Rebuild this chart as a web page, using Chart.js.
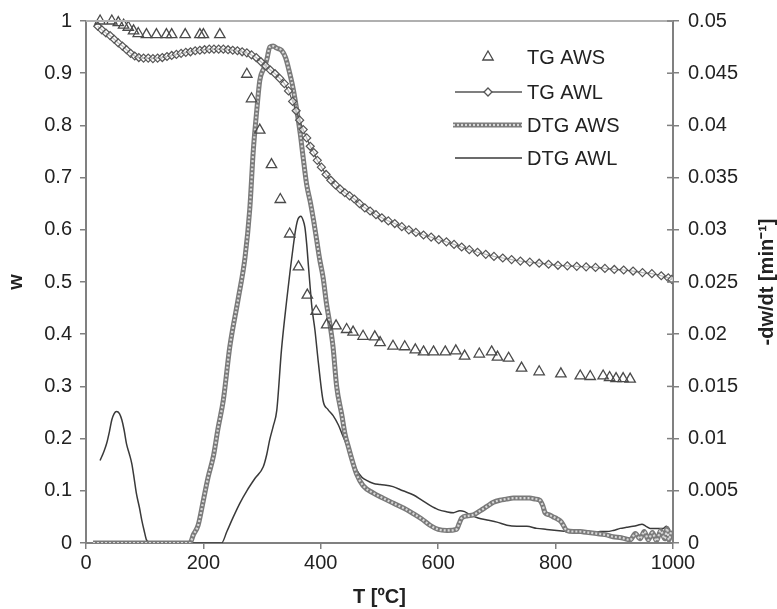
<!DOCTYPE html>
<html>
<head>
<meta charset="utf-8">
<script src="https://cdn.jsdelivr.net/npm/chart.js@4.4.1/dist/chart.umd.min.js"></script>
<style>
  html, body { margin: 0; padding: 0; background: #fff; }
  #wrap { width: 777px; height: 609px; position: relative; }
</style>
</head>
<body>
<div id="wrap"><canvas id="grafico"></canvas></div>
<script>
// ================== Datos ==================
// TG AWS (triangulos)
const T_TG_AWS = [24, 44, 55, 64, 72, 81, 89, 103, 120, 137, 146, 169, 194, 200, 228, 274, 282, 296, 316, 331,
  347, 362, 377, 392, 410, 426, 444, 455, 472, 492, 501, 523, 543, 561, 575, 592, 612, 630, 645, 670,
  691, 701, 720, 742, 772, 809, 842, 859, 881, 892, 903, 915, 927];
const W_TG_AWS = [1.0, 1.0, 0.997, 0.992, 0.988, 0.981, 0.976, 0.974, 0.974, 0.974, 0.974, 0.974, 0.974, 0.974, 0.974, 0.898, 0.851, 0.791, 0.725, 0.658,
  0.592, 0.529, 0.475, 0.444, 0.418, 0.416, 0.409, 0.404, 0.396, 0.395, 0.384, 0.377, 0.376, 0.370, 0.366, 0.366, 0.366, 0.368, 0.358, 0.362,
  0.366, 0.356, 0.354, 0.335, 0.328, 0.324, 0.320, 0.319, 0.320, 0.317, 0.315, 0.315, 0.314];

// TG AWL (linea con rombos)
const T_TG_AWL = [20, 27, 34, 41, 48, 55, 62, 69, 76, 83, 90, 98, 106, 114, 122, 130, 138, 146, 154, 162,
  170, 178, 186, 194, 202, 210, 218, 226, 234, 242, 250, 258, 266, 274, 282, 290, 298, 306, 314, 322,
  330, 338, 345, 352, 358, 364, 370, 376, 382, 388, 394, 401, 409, 417, 425, 433, 441, 449, 457, 466,
  475, 484, 494, 504, 515, 526, 538, 550, 562, 575, 588, 601, 614, 627, 640, 653, 667, 681, 695, 710,
  725, 740, 756, 772, 788, 804, 820, 836, 852, 868, 884, 900, 916, 932, 948, 964, 980, 992, 998];
const W_TG_AWL = [0.990, 0.983, 0.977, 0.972, 0.965, 0.958, 0.952, 0.945, 0.938, 0.933, 0.930, 0.929, 0.929, 0.928, 0.929, 0.930, 0.932, 0.934, 0.936, 0.938,
  0.940, 0.941, 0.943, 0.944, 0.945, 0.946, 0.946, 0.946, 0.946, 0.945, 0.944, 0.943, 0.941, 0.939, 0.935, 0.930, 0.922, 0.914, 0.906, 0.899,
  0.890, 0.880, 0.866, 0.846, 0.828, 0.810, 0.792, 0.776, 0.760, 0.748, 0.733, 0.720, 0.706, 0.695, 0.686, 0.678, 0.671, 0.665, 0.659, 0.650,
  0.642, 0.636, 0.629, 0.623, 0.617, 0.612, 0.606, 0.600, 0.595, 0.590, 0.586, 0.581, 0.577, 0.572, 0.567, 0.562, 0.557, 0.553, 0.549, 0.546,
  0.543, 0.540, 0.538, 0.536, 0.534, 0.532, 0.531, 0.530, 0.529, 0.528, 0.526, 0.524, 0.523, 0.521, 0.518, 0.516, 0.512, 0.508, 0.505];

// DTG AWS (eje derecho)
const T_DTG_AWS = [12, 100, 177, 183, 191, 200, 208, 217, 225, 234, 245, 259, 271, 279, 285, 291, 296, 303, 308, 313,
  319, 325, 333, 340, 347, 353, 359, 365, 370, 376, 382, 388, 393, 398, 404, 410, 416, 421, 427, 436,
  441, 447, 453, 461, 472, 489, 506, 524, 546, 558, 572, 586, 600, 615, 631, 636, 640, 650, 660, 672,
  683, 694, 705, 716, 728, 742, 756, 766, 773, 778, 782, 789, 796, 803, 810, 819, 830, 842, 856, 870,
  884, 898, 912, 927, 936, 944, 951, 958, 965, 972, 979, 986, 990, 993, 997];
const D_DTG_AWS = [0, 0, 0, 0.0008, 0.0017, 0.0041, 0.0063, 0.0083, 0.011, 0.0137, 0.0188, 0.0233, 0.0274, 0.032, 0.0376, 0.0415, 0.0443, 0.0455, 0.0463, 0.0475,
  0.0476, 0.0474, 0.0472, 0.0465, 0.045, 0.0435, 0.0415, 0.0392, 0.0369, 0.0343, 0.0327, 0.0308, 0.029, 0.0272, 0.0254, 0.0228, 0.0208, 0.0187, 0.015, 0.0122,
  0.0105, 0.0092, 0.008, 0.0066, 0.0055, 0.0048, 0.0043, 0.0038, 0.0032, 0.0028, 0.0023, 0.0017, 0.0013, 0.0012, 0.0013, 0.0019, 0.0024, 0.0026, 0.0027, 0.0031,
  0.0035, 0.0039, 0.0041, 0.0042, 0.0043, 0.0043, 0.0043, 0.0042, 0.0041, 0.0036, 0.0029, 0.0027, 0.0025, 0.0023, 0.002, 0.0012, 0.0011, 0.0011, 0.001, 0.0009,
  0.0008, 0.0006, 0.0005, 0.0003, 0.0009, 0.0004, 0.0011, 0.0003, 0.0010, 0.0002, 0.0012, 0.0004, 0.0014, 0.0003, 0.0012];

// DTG AWL (eje derecho)
const T_DTG_AWL = [24, 30, 35, 40, 44, 48, 52, 57, 61, 65, 69, 74, 78, 82, 86, 91, 95, 99, 103, 110,
  150, 200, 231, 240, 251, 262, 274, 288, 302, 308, 313, 319, 325, 333, 342, 348, 353, 357, 361, 366,
  370, 373, 376, 379, 382, 385, 390, 396, 404, 412, 421, 430, 438, 450, 461, 470, 478, 490, 501, 523,
  540, 558, 572, 586, 600, 614, 626, 637, 645, 654, 668, 683, 700, 717, 734, 751, 768, 785, 802, 819,
  836, 853, 865, 876, 887, 898, 910, 921, 932, 940, 947, 954, 961, 972, 983, 989, 995];
const D_DTG_AWL = [0.0079, 0.0087, 0.0095, 0.0107, 0.0118, 0.0124, 0.0126, 0.0124, 0.0118, 0.0108, 0.0095, 0.0085, 0.0076, 0.0062, 0.0047, 0.0034, 0.0022, 0.0012, 0.0003, 0,
  0, 0, 0, 0.0011, 0.0025, 0.0038, 0.005, 0.0062, 0.0073, 0.0085, 0.0099, 0.0112, 0.0127, 0.0185, 0.0233, 0.0262, 0.0284, 0.0300, 0.0310, 0.0313,
  0.0309, 0.0302, 0.0286, 0.0265, 0.0244, 0.0225, 0.0204, 0.0172, 0.0136, 0.0128, 0.0122, 0.0113, 0.0102, 0.0086, 0.007, 0.0063, 0.006, 0.0057, 0.0056, 0.0054,
  0.005, 0.0046, 0.0041, 0.0036, 0.0032, 0.003, 0.0029, 0.0031, 0.003, 0.0027, 0.0024, 0.0022, 0.002, 0.0017, 0.0016, 0.0016, 0.0014, 0.0013, 0.0012, 0.0011,
  0.001, 0.0009, 0.001, 0.0011, 0.0011, 0.0012, 0.0014, 0.0015, 0.0016, 0.0017, 0.0018, 0.0016, 0.0014, 0.0014, 0.0014, 0.0016, 0.0012];

const LEYENDA = ["TG AWS", "TG AWL", "DTG AWS", "DTG AWL"];
const TITULO_X = "T [ºC]";
const TITULO_Y = "w";
const TITULO_Y2 = "-dw/dt [min\u207B\u00B9]";

// ================== Util ==================
const FUENTE = "'Liberation Sans', Arial, sans-serif";
const GRIS_EJE = "#808080";

function puntos(xs, ys) {
  return xs.map((x, i) => ({ x: x, y: ys[i] }));
}

function fmt(v) {
  return String(Number(v.toFixed(4)));
}

function triangulo(ctx, x, y, r) {
  ctx.beginPath();
  ctx.moveTo(x, y - r);
  ctx.lineTo(x + r * 0.866, y + r * 0.5);
  ctx.lineTo(x - r * 0.866, y + r * 0.5);
  ctx.closePath();
  ctx.stroke();
}

function rombo(ctx, x, y, r) {
  ctx.beginPath();
  ctx.moveTo(x, y - r);
  ctx.lineTo(x + r, y);
  ctx.lineTo(x, y + r);
  ctx.lineTo(x - r, y);
  ctx.closePath();
  ctx.fill();
  ctx.stroke();
}

// Borde superior, marcas del eje derecho, titulo derecho y leyenda
const extras = {
  id: "extras",
  afterDatasetsDraw(chart) {
    const { ctx, chartArea } = chart;
    ctx.save();
    // linea superior
    ctx.strokeStyle = "#b0b0b0";
    ctx.lineWidth = 2;
    ctx.beginPath();
    ctx.moveTo(chartArea.left, chartArea.top);
    ctx.lineTo(chartArea.right, chartArea.top);
    ctx.stroke();

    // marcas internas del eje derecho
    const y2 = chart.scales.y2;
    ctx.strokeStyle = GRIS_EJE;
    ctx.lineWidth = 1.5;
    y2.ticks.forEach(t => {
      const py = y2.getPixelForValue(t.value);
      ctx.beginPath();
      ctx.moveTo(chartArea.right - 6, py);
      ctx.lineTo(chartArea.right, py);
      ctx.stroke();
    });

    // titulo derecho (de abajo hacia arriba)
    ctx.fillStyle = "#222";
    ctx.font = "bold 20px " + FUENTE;
    ctx.textAlign = "center";
    ctx.textBaseline = "middle";
    ctx.save();
    ctx.translate(767, (chartArea.top + chartArea.bottom) / 2);
    ctx.rotate(-Math.PI / 2);
    ctx.fillText(TITULO_Y2, 0, 0);
    ctx.restore();

    // leyenda
    const x0 = 455, x1 = 522, xt = 527;
    const filas = [57, 92, 125, 158];
    ctx.font = "20px " + FUENTE;
    ctx.textAlign = "left";

    ctx.strokeStyle = "#4a4a4a";
    ctx.lineWidth = 1.3;
    triangulo(ctx, 488, filas[0], 6);

    ctx.strokeStyle = "#555";
    ctx.lineWidth = 1.3;
    ctx.beginPath(); ctx.moveTo(x0, filas[1]); ctx.lineTo(x1, filas[1]); ctx.stroke();
    ctx.fillStyle = "#fff";
    rombo(ctx, 488, filas[1], 4);

    ctx.strokeStyle = "#7a7a7a";
    ctx.lineWidth = 5;
    ctx.beginPath(); ctx.moveTo(x0 - 2, filas[2]); ctx.lineTo(x1, filas[2]); ctx.stroke();
    ctx.strokeStyle = "#d8d8d8";
    ctx.lineWidth = 2.2;
    ctx.setLineDash([2, 2]);
    ctx.beginPath(); ctx.moveTo(x0 - 2, filas[2]); ctx.lineTo(x1, filas[2]); ctx.stroke();
    ctx.setLineDash([]);

    ctx.strokeStyle = "#3a3a3a";
    ctx.lineWidth = 1.5;
    ctx.beginPath(); ctx.moveTo(x0, filas[3]); ctx.lineTo(x1, filas[3]); ctx.stroke();

    ctx.fillStyle = "#222";
    LEYENDA.forEach((t, i) => ctx.fillText(t, xt, filas[i] + 1));
    ctx.restore();
  }
};

// ================== Grafica ==================
const ctx = document.getElementById("grafico").getContext("2d");
const chart = new Chart(ctx, {
  type: "scatter",
  data: {
    datasets: [
      {
        label: LEYENDA[3], data: puntos(T_DTG_AWL, D_DTG_AWL), yAxisID: "y2",
        showLine: true, borderColor: "#3a3a3a", borderWidth: 1.5, pointRadius: 0,
        cubicInterpolationMode: "monotone", order: 4
      },
      {
        label: LEYENDA[2], data: puntos(T_DTG_AWS, D_DTG_AWS), yAxisID: "y2",
        showLine: true, borderColor: "#7a7a7a", borderWidth: 5, pointRadius: 0,
        cubicInterpolationMode: "monotone", order: 3
      },
      {
        label: LEYENDA[2] + " (textura)", data: puntos(T_DTG_AWS, D_DTG_AWS), yAxisID: "y2",
        showLine: true, borderColor: "#d8d8d8", borderWidth: 2.2, borderDash: [2, 2], pointRadius: 0,
        cubicInterpolationMode: "monotone", order: 2
      },
      {
        label: LEYENDA[1], data: puntos(T_TG_AWL, W_TG_AWL), yAxisID: "y",
        showLine: true, borderColor: "#555", borderWidth: 1.2, pointStyle: "rectRot", pointRadius: 4,
        pointBorderWidth: 1.2, pointBackgroundColor: "rgba(255,255,255,0.6)", pointBorderColor: "#555", order: 1
      },
      {
        label: LEYENDA[0], data: puntos(T_TG_AWS, W_TG_AWS), yAxisID: "y",
        showLine: false, pointStyle: "triangle", pointRadius: 6, pointBorderWidth: 1.3,
        pointBorderColor: "#4a4a4a", pointBackgroundColor: "rgba(255,255,255,0)", clip: 10, order: 0
      }
    ]
  },
  options: {
    responsive: true,
    maintainAspectRatio: false,
    animation: false,
    layout: { padding: { top: 21, right: 0, left: 0, bottom: 0 } },
    plugins: { legend: { display: false }, tooltip: { enabled: false } },
    scales: {
      x: {
        type: "linear", min: 0, max: 1000,
        ticks: { stepSize: 200, color: "#222", font: { family: FUENTE, size: 20 }, padding: 2, maxRotation: 0, callback: v => fmt(v) },
        grid: { display: true, drawOnChartArea: false, drawTicks: true, tickLength: 6, color: GRIS_EJE, lineWidth: 1.5 },
        border: { display: true, color: GRIS_EJE, width: 2 },
        title: { display: true, text: TITULO_X, color: "#222", font: { family: FUENTE, size: 20, weight: "bold" }, padding: { top: 0, bottom: 0 } },
        afterFit(scale) { scale.height = 66; }
      },
      y: {
        type: "linear", position: "left", min: 0, max: 1,
        ticks: { stepSize: 0.1, color: "#222", font: { family: FUENTE, size: 20 }, padding: 8, callback: v => fmt(v) },
        grid: { display: true, drawOnChartArea: false, drawTicks: true, tickLength: 6, color: GRIS_EJE, lineWidth: 1.5 },
        border: { display: true, color: GRIS_EJE, width: 2 },
        title: { display: true, text: TITULO_Y, color: "#222", font: { family: FUENTE, size: 20, weight: "bold" }, padding: { top: 4, bottom: 0 } },
        afterFit(scale) { scale.width = 86; }
      },
      y2: {
        type: "linear", position: "right", min: 0, max: 0.05,
        ticks: { stepSize: 0.005, color: "#222", font: { family: FUENTE, size: 20 }, padding: 9, callback: v => fmt(v) },
        grid: { display: true, drawOnChartArea: false, drawTicks: true, tickLength: 6, color: GRIS_EJE, lineWidth: 1.5 },
        border: { display: true, color: GRIS_EJE, width: 2 },
        afterFit(scale) { scale.width = 104; }
      }
    }
  },
  plugins: [extras]
});
</script>
</body>
</html>
